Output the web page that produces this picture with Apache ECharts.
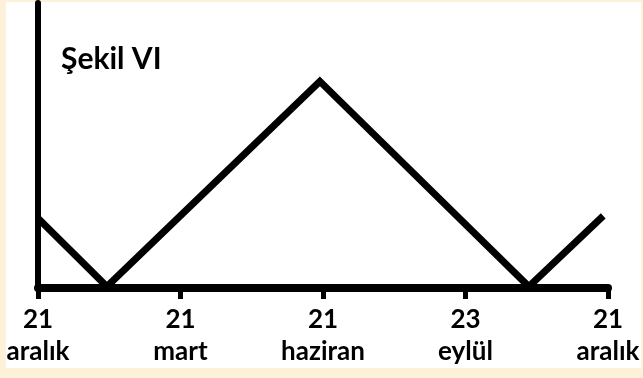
<!DOCTYPE html>
<html>
<head>
<meta charset="utf-8">
<script src="https://cdn.jsdelivr.net/npm/echarts@6/dist/echarts.min.js"></script>
<style>
  html, body { margin: 0; padding: 0; background: #fdf1da; }
  #chart { width: 643px; height: 378px; }
</style>
</head>
<body>
<div id="chart"></div>
<script>
// tick positions and their two-line labels
const tickDays   = [0, 90, 180, 270, 360];
const tickDates  = ["21", "21", "21", "23", "21"];
const tickMonths = ["aralık", "mart", "haziran", "eylül", "aralık"];

// the zig-zag line (x in day units, y in relative height)
const lineX = [0, 43.5, 178, 310, 357];
const lineY = [24.5, 0.5, 72.5, 0.5, 25.3];

const titleText = "Şekil VI";
const FONT = "Lato, 'DejaVu Sans Condensed', sans-serif";

const chart = echarts.init(document.getElementById("chart"), null, { renderer: "canvas" });

const labelFor = {};
tickDays.forEach((d, i) => { labelFor[d] = tickDates[i] + "\n" + tickMonths[i]; });

chart.setOption({
  backgroundColor: "#fdf1da",
  animation: false,
  grid: { left: 38, right: 35, top: 3, bottom: 90, outerBoundsMode: "none", containLabel: false },
  graphic: [
    {
      type: "rect",
      z: -10,
      silent: true,
      shape: { x: 6, y: 2, width: 635, height: 366 },
      style: { fill: "#ffffff" },
    },
    {
      type: "text",
      left: 61,
      top: 44,
      z: 10,
      style: {
        text: titleText,
        fill: "#000",
        fontFamily: FONT,
        fontWeight: "bold",
        fontSize: 30,
      },
    },
  ],
  xAxis: {
    type: "value",
    min: 0,
    max: 360,
    interval: 90,
    axisLine: { lineStyle: { color: "#000", width: 8 } },
    axisTick: { show: true, length: 11, lineStyle: { color: "#000", width: 5 } },
    splitLine: { show: false },
    axisLabel: {
      color: "#000",
      fontFamily: FONT,
      fontWeight: "bold",
      fontSize: 26,
      lineHeight: 32,
      margin: 16,
      showMinLabel: true,
      showMaxLabel: true,
      hideOverlap: false,
      formatter: (v) => labelFor[v] || "",
    },
  },
  yAxis: {
    type: "value",
    min: 0,
    max: 100,
    axisLine: { show: true, lineStyle: { color: "#000", width: 6, cap: "round" } },
    axisTick: { show: false },
    axisLabel: { show: false },
    splitLine: { show: false },
  },
  series: [
    {
      type: "line",
      data: lineX.map((x, i) => [x, lineY[i]]),
      symbol: "none",
      clip: false,
      lineStyle: { color: "#000", width: 7, join: "miter", cap: "butt" },
      z: 3,
    },
  ],
});
</script>
</body>
</html>
